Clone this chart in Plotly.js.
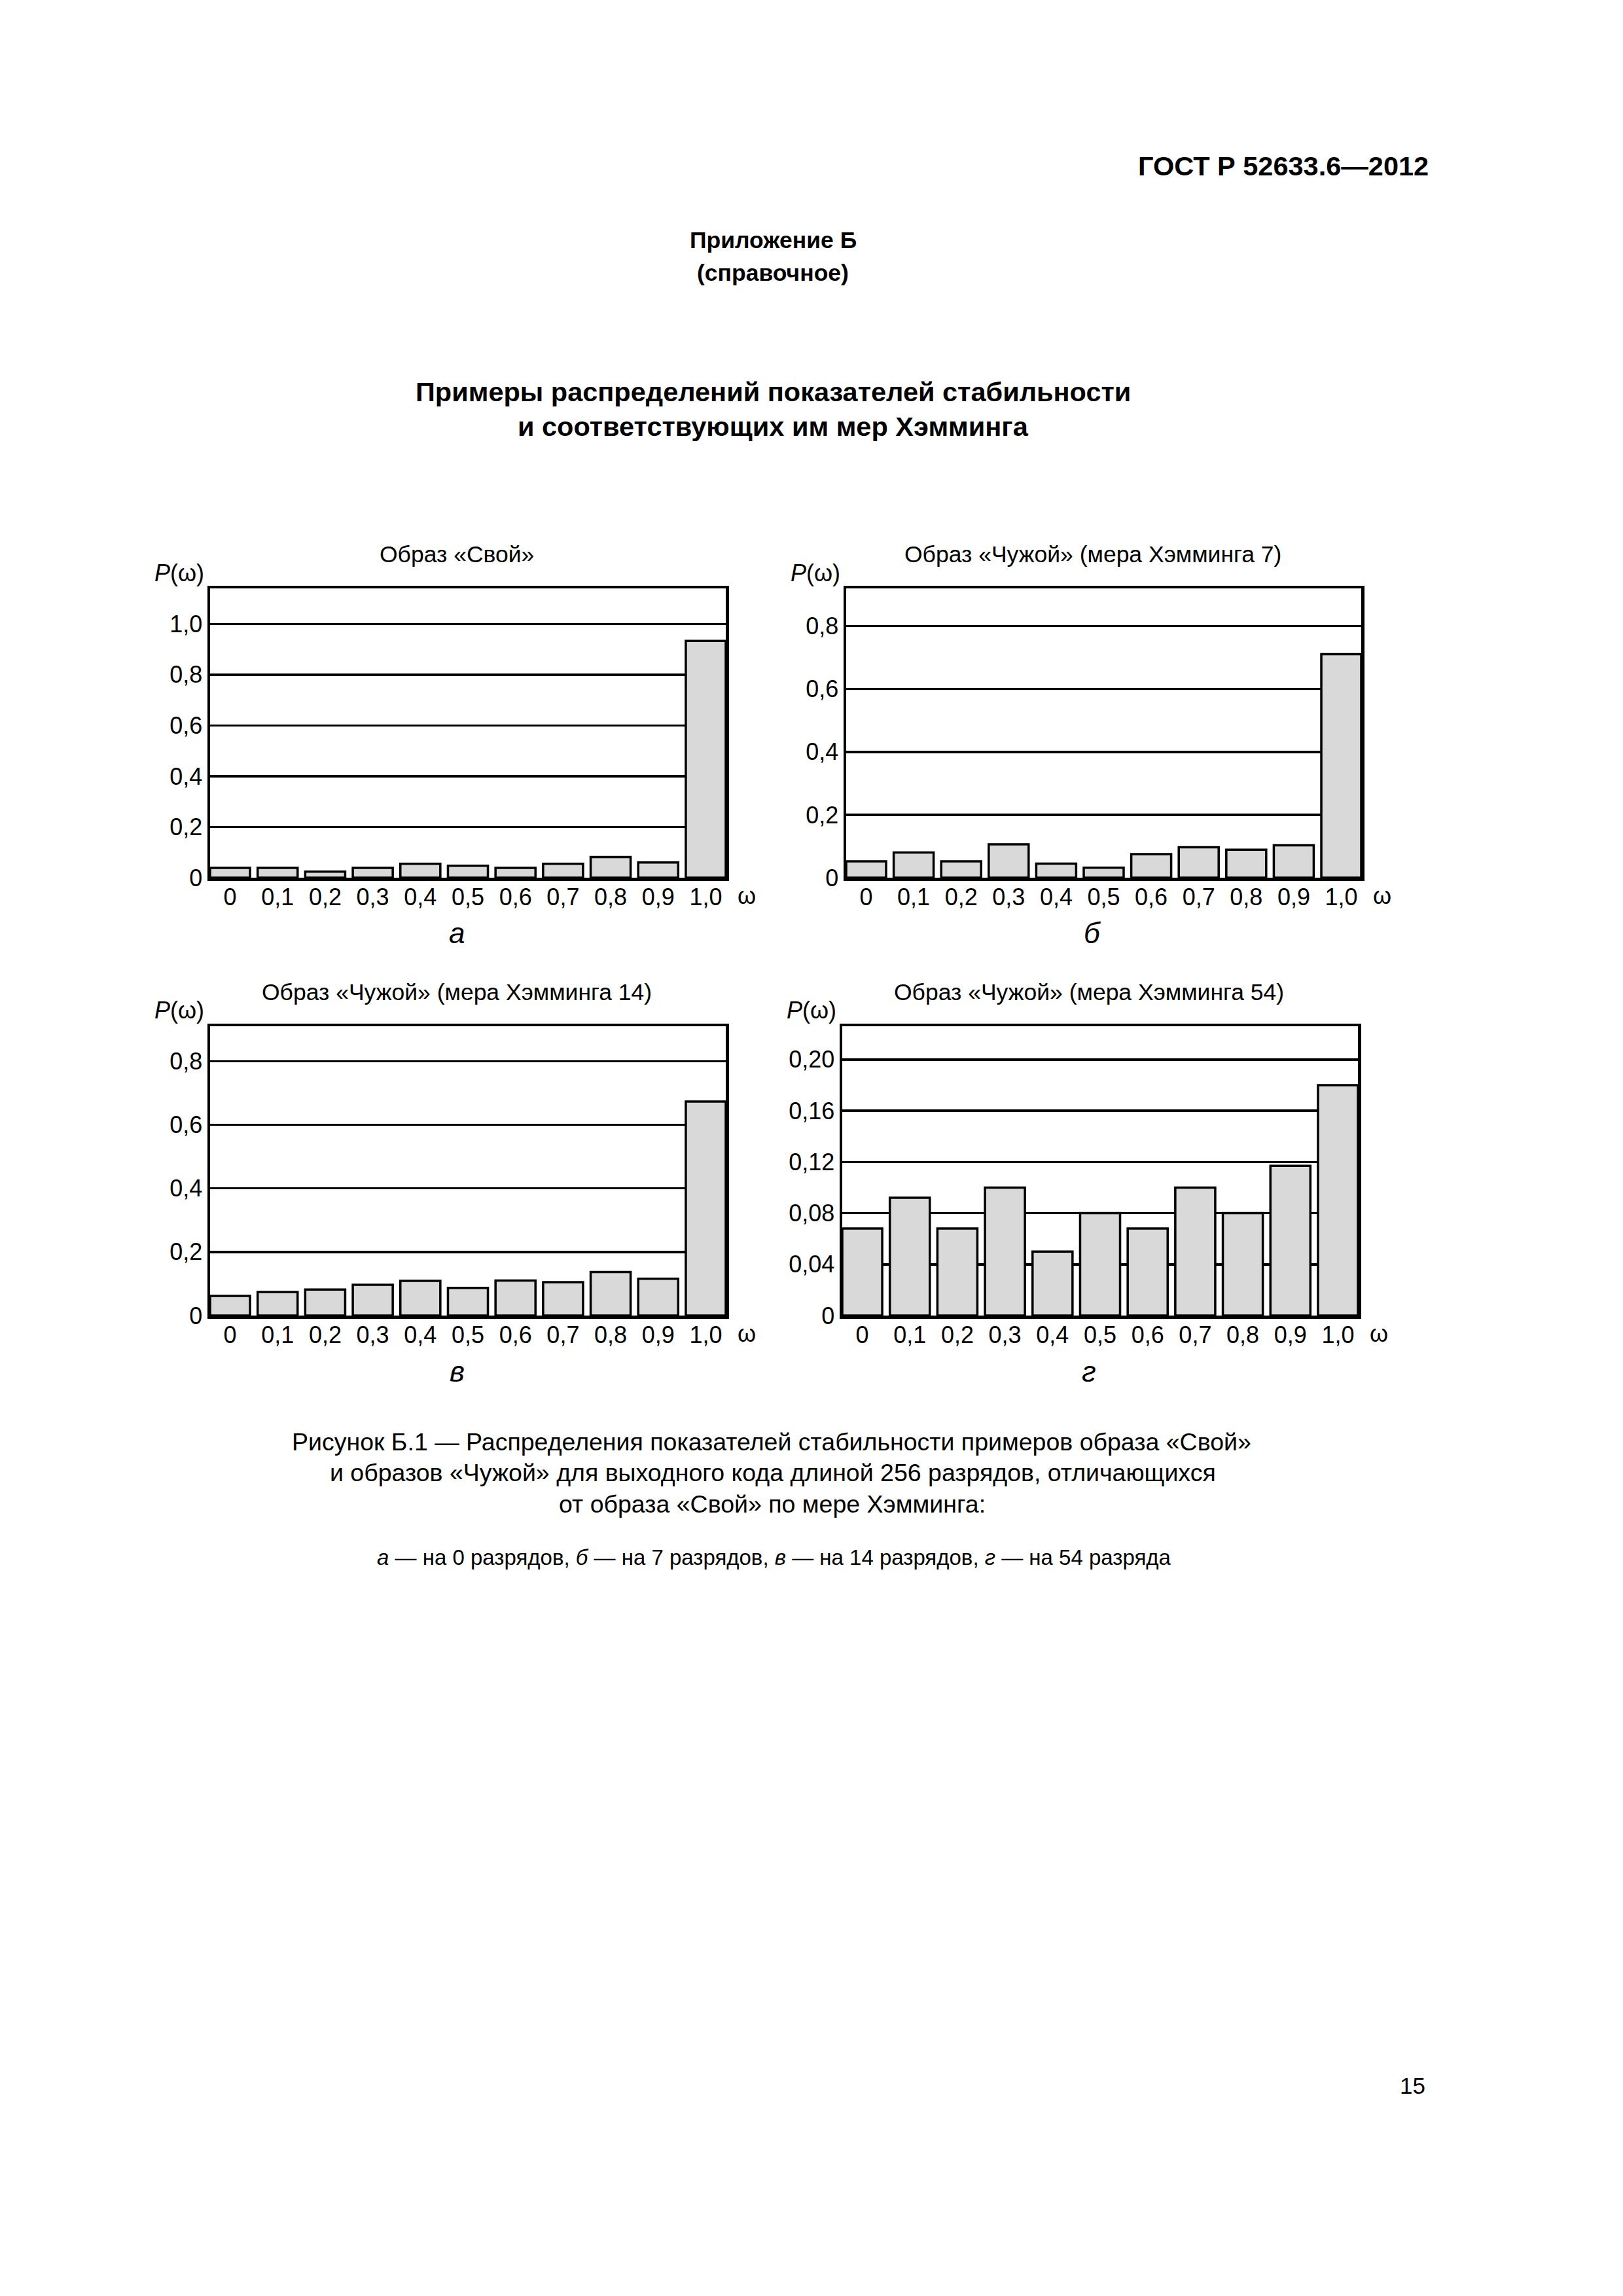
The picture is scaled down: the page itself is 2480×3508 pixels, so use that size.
<!DOCTYPE html>
<html>
<head>
<meta charset="utf-8">
<script src="https://cdn.plot.ly/plotly-3.0.1.min.js"></script>
<style>html,body{margin:0;padding:0;background:#fff;}#chart{width:2480px;height:3508px;}</style>
</head>
<body>
<div id="chart"></div>
<script>
// ---- data ----
const categories = ["0","0,1","0,2","0,3","0,4","0,5","0,6","0,7","0,8","0,9","1,0"];
const valuesA = [0.039,0.039,0.024,0.039,0.055,0.047,0.039,0.055,0.081,0.060,0.933];
const valuesB = [0.052,0.080,0.052,0.106,0.045,0.032,0.075,0.097,0.089,0.103,0.711];
const valuesV = [0.062,0.074,0.082,0.097,0.109,0.087,0.110,0.105,0.137,0.116,0.673];
const valuesG = [0.068,0.092,0.068,0.100,0.050,0.080,0.068,0.100,0.080,0.117,0.180];

const yTicksA = [0,0.2,0.4,0.6,0.8,1.0];
const yTickTextA = ["0","0,2","0,4","0,6","0,8","1,0"];
const yTicksB = [0,0.2,0.4,0.6,0.8];
const yTickTextB = ["0","0,2","0,4","0,6","0,8"];
const yTicksV = [0,0.2,0.4,0.6,0.8];
const yTickTextV = ["0","0,2","0,4","0,6","0,8"];
const yTicksG = [0,0.04,0.08,0.12,0.16,0.20];
const yTickTextG = ["0","0,04","0,08","0,12","0,16","0,20"];

const panelTitles = ["Образ «Свой»","Образ «Чужой» (мера Хэмминга 7)","Образ «Чужой» (мера Хэмминга 14)","Образ «Чужой» (мера Хэмминга 54)"];
const panelLetters = ["а","б","в","г"];
const yRanges = [1.14, 0.92, 0.91, 0.226];

// ---- layout helpers ----
const W = 2480, H = 3508;
const fx = x => x / W;
const fy = y => 1 - y / H;
const FONT = "Liberation Sans, Arial, sans-serif";

const panels = [
  {x0:321,  x1:1109, y0:899,  y1:1341, vals:valuesA, tv:yTicksA, tt:yTickTextA},
  {x0:1293, x1:2080, y0:899,  y1:1341, vals:valuesB, tv:yTicksB, tt:yTickTextB},
  {x0:321,  x1:1109, y0:1568, y1:2010, vals:valuesV, tv:yTicksV, tt:yTickTextV},
  {x0:1287, x1:2075, y0:1568, y1:2010, vals:valuesG, tv:yTicksG, tt:yTickTextG}
];

const data = [];
const layout = {
  width: W, height: H,
  margin: {l:0, r:0, t:0, b:0},
  paper_bgcolor: "#ffffff",
  plot_bgcolor: "#ffffff",
  showlegend: false,
  font: {family: FONT, color: "#000", size: 36},
  annotations: []
};

panels.forEach((p, i) => {
  const n = i === 0 ? "" : String(i + 1);
  data.push({
    type: "bar",
    x: categories,
    y: p.vals,
    width: 0.84,
    xaxis: "x" + n,
    yaxis: "y" + n,
    marker: {color: "#d9d9d9", line: {color: "#000", width: 3.5}},
    hoverinfo: "skip"
  });
  layout["xaxis" + n] = {
    domain: [fx(p.x0), fx(p.x1)],
    anchor: "y" + n,
    type: "category",
    range: [-0.42, 10.42],
    showgrid: false, zeroline: false,
    showline: true, mirror: true, linecolor: "#000", linewidth: 4.5,
    ticks: "", ticklabelstandoff: -6,
    tickfont: {family: FONT, size: 36, color: "#000"},
    fixedrange: true
  };
  layout["yaxis" + n] = {
    domain: [fy(p.y1), fy(p.y0)],
    anchor: "x" + n,
    range: [0, yRanges[i]],
    tickvals: p.tv, ticktext: p.tt,
    showgrid: true, gridcolor: "#000", gridwidth: 3.5,
    zeroline: false,
    showline: true, mirror: true, linecolor: "#000", linewidth: 4.5,
    ticks: "", tickfont: {family: FONT, size: 36, color: "#000"},
    fixedrange: true
  };
  const cx = (p.x0 + p.x1) / 2 - 17;
  layout.annotations.push({text: panelTitles[i], x: fx(cx), y: fy(p.y0 - 52), xref:"paper", yref:"paper",
    xanchor:"center", yanchor:"middle", showarrow:false, font:{family:FONT, size:35.5, color:"#000"}});
  layout.annotations.push({text: "<i>P</i>(ω)", x: fx(p.x0 - 47), y: fy(p.y0 - 24), xref:"paper", yref:"paper",
    xanchor:"center", yanchor:"middle", showarrow:false, font:{family:FONT, size:36, color:"#000"}});
  layout.annotations.push({text: "ω", x: fx(p.x1 + 32), y: fy(p.y1 + 27), xref:"paper", yref:"paper",
    xanchor:"center", yanchor:"middle", showarrow:false, font:{family:FONT, size:36, color:"#000"}});
  layout.annotations.push({text: "<i>" + panelLetters[i] + "</i>", x: fx(cx), y: fy(p.y1 + 85), xref:"paper", yref:"paper",
    xanchor:"center", yanchor:"middle", showarrow:false, font:{family:FONT, size:44, color:"#000"}});
});

const pageTexts = [
  {t:"<b>ГОСТ Р 52633.6—2012</b>", x:2185, y:253, anchor:"right", s:41.5},
  {t:"<b>Приложение Б</b>", x:1181, y:367, anchor:"center", s:35.5},
  {t:"<b>(справочное)</b>", x:1181, y:417, anchor:"center", s:35.5},
  {t:"<b>Примеры распределений показателей стабильности</b>", x:1181, y:598, anchor:"center", s:41.5},
  {t:"<b>и соответствующих им мер Хэмминга</b>", x:1181, y:651, anchor:"center", s:41.5},
  {t:"Рисунок Б.1 — Распределения показателей стабильности примеров образа «Свой»", x:1179, y:2203, anchor:"center", s:37.5},
  {t:"и образов «Чужой» для выходного кода длиной 256 разрядов, отличающихся", x:1181, y:2250, anchor:"center", s:37.5},
  {t:"от образа «Свой» по мере Хэмминга:", x:1180, y:2298, anchor:"center", s:37.5},
  {t:"<i>а</i> — на 0 разрядов, <i>б</i> — на 7 разрядов, <i>в</i> — на 14 разрядов, <i>г</i> — на 54 разряда", x:1183, y:2379, anchor:"center", s:33},
  {t:"15", x:2158, y:3186, anchor:"center", s:35}
];
pageTexts.forEach(o => layout.annotations.push({
  text:o.t, x:fx(o.x), y:fy(o.y), xref:"paper", yref:"paper", xanchor:o.anchor, yanchor:"middle",
  showarrow:false, font:{family:FONT, size:o.s, color:"#000"}
}));

Plotly.newPlot("chart", data, layout, {staticPlot:true, displayModeBar:false});
</script>
</body>
</html>
